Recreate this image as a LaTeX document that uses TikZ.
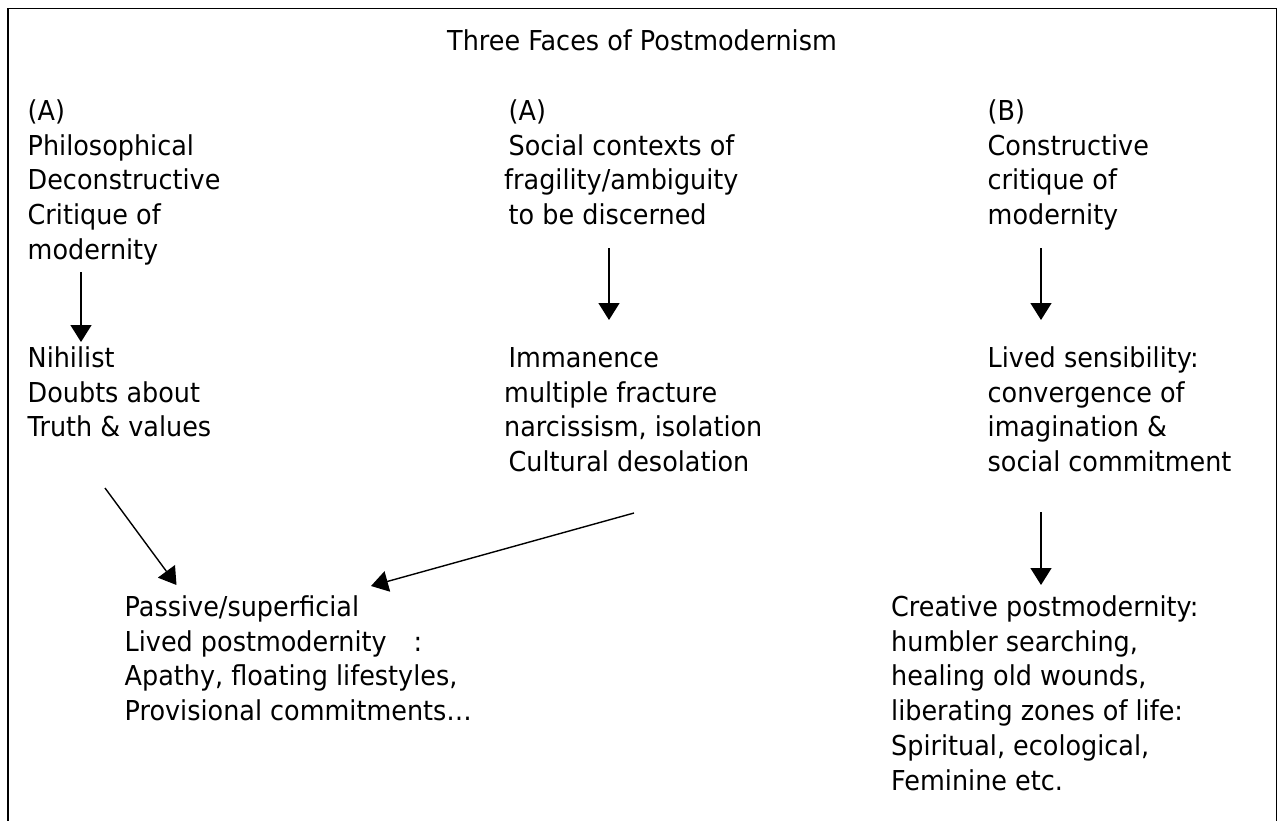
\documentclass[tikz,border=0pt]{standalone}
\usepackage{fontspec}
\setmainfont[FakeStretch=0.93]{DejaVu Sans}
\usetikzlibrary{arrows.meta}
\tikzset{
  txt/.style={anchor=north west, inner sep=0pt, align=left, font=\fontsize{27.4}{34.8}\selectfont},
  arr/.style={line width=1.4pt, -{Triangle[length=17pt,width=21pt]}},
  frame/.style={line width=1.5pt}
}
\begin{document}
\begin{tikzpicture}[x=1pt,y=-1pt]
\useasboundingbox (0,0) rectangle (1278,820);
\draw[frame] (8,822) -- (8,8.5) -- (1276.5,8.5) -- (1276.5,822);

\node[txt] (title) at (447,25.64) {\strut Three Faces of Postmodernism};

\node[txt] (h1) at (27.5,95.64) {\strut(A)\\Philosophical\\Deconstructive\\Critique of\\modernity};
\node[txt] (h2) at (504,95.64) {\strut\hspace*{4.5pt}(A)\\\hspace*{4.5pt}Social contexts of\\fragility/ambiguity\\\hspace*{4.5pt}to be discerned};
\node[txt] (h3) at (987.5,95.64) {\strut(B)\\Constructive\\critique of\\modernity};

\node[txt] (m1) at (27.5,342.64) {\strut Nihilist\\Doubts about\\Truth \& values};
\node[txt] (m2) at (504,342.64) {\strut\hspace*{4.5pt}Immanence\\multiple fracture\\narcissism, isolation\\\hspace*{4.5pt}Cultural desolation};
\node[txt] (m3) at (987.5,342.64) {\strut Lived sensibility:\\convergence of\\imagination \&\\social commitment};

\node[txt] (b1) at (124.5,591.64) {\strut Passive/superficial\\Lived postmodernity\hspace{27pt}:\\Apathy, floating lifestyles,\\Provisional commitments…};
\node[txt] (b3) at (891,591.64) {\strut Creative postmodernity:\\humbler searching,\\healing old wounds,\\liberating zones of life:\\Spiritual, ecological,\\Feminine etc.};

\coordinate (a1s) at (81,272);   \coordinate (a1e) at (81,342);
\coordinate (a2s) at (609,248);  \coordinate (a2e) at (609,320);
\coordinate (a3s) at (1041,248); \coordinate (a3e) at (1041,320);
\coordinate (a4s) at (1041,512); \coordinate (a4e) at (1041,585);
\coordinate (dAs) at (105,488);  \coordinate (dAe) at (176.5,585);
\coordinate (dBs) at (634,513);  \coordinate (dBe) at (371,586);

\draw[arr] (a1s) -- (a1e);
\draw[arr] (a2s) -- (a2e);
\draw[arr] (a3s) -- (a3e);
\draw[arr] (a4s) -- (a4e);
\draw[arr] (dAs) -- (dAe);
\draw[arr] (dBs) -- (dBe);
\end{tikzpicture}
\end{document}
